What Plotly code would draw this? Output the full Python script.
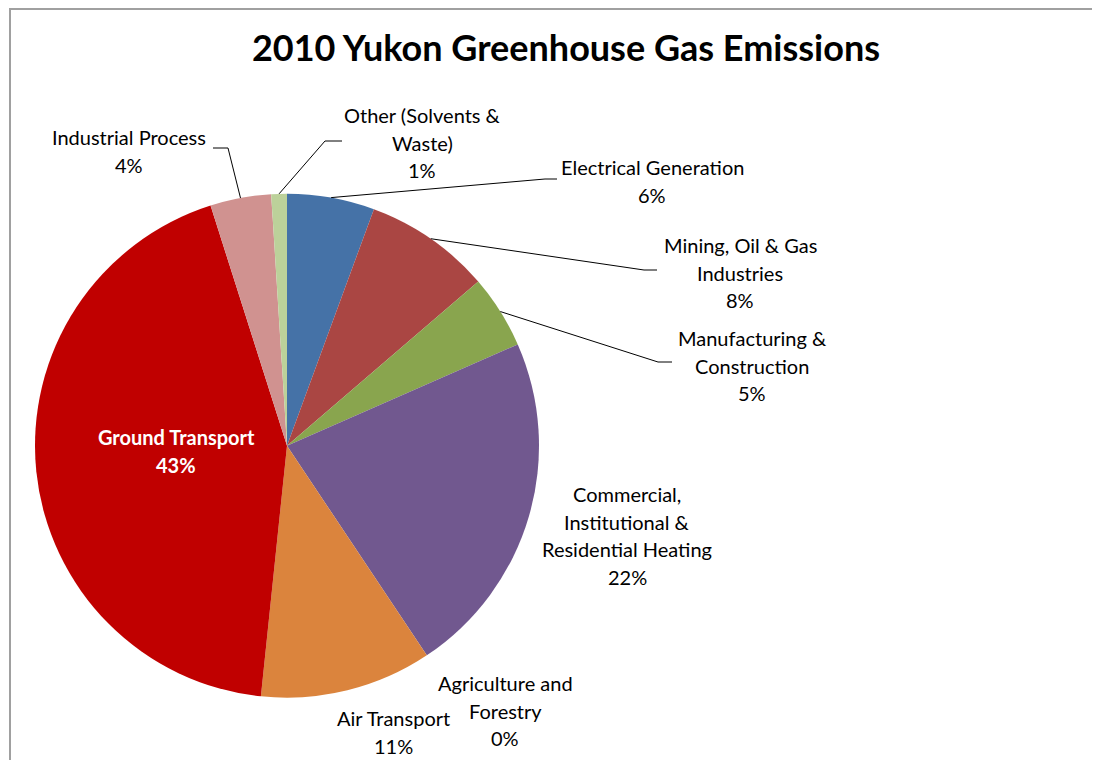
import math
import plotly.graph_objects as go

# ── Data ──────────────────────────────────────────────────────────────────────
CATEGORIES = [
    "Electrical Generation",
    "Mining, Oil & Gas Industries",
    "Manufacturing & Construction",
    "Commercial, Institutional & Residential Heating",
    "Agriculture and Forestry",
    "Air Transport",
    "Ground Transport",
    "Industrial Process",
    "Other (Solvents & Waste)",
]
SHARES = [5.6, 8.1, 4.7, 22.2, 0.0, 11.0, 43.4, 3.9, 1.0]
COLORS = ["#4572A7", "#AA4643", "#89A54E", "#71588F", "#4198AF",
          "#DB843D", "#C00000", "#D09290", "#BCD19A"]
# label text as wrapped in the chart
LABEL_LINES = [
    ["Electrical Generation"],
    ["Mining, Oil & Gas", "Industries"],
    ["Manufacturing &", "Construction"],
    ["Commercial,", "Institutional &", "Residential Heating"],
    ["Agriculture and", "Forestry"],
    ["Air Transport"],
    ["Ground Transport"],
    ["Industrial Process"],
    ["Other (Solvents &", "Waste)"],
]

# ── Layout constants (screen pixels) ─────────────────────────────────────────
W, H = 1092, 752        # page body has an 8px margin
OFF = 8
CX, CY, R = 287, 445.7, 252
FONT = "Lato, 'Open Sans', sans-serif"
LINE_H = 27.5

# label centre (x, y of first line) and leader elbow/end points (None = no leader)
LABEL_POS = [
    (652, 167), (740, 245), (752, 338), (627, 494), (505, 683),
    (393, 718), (176, 437), (129, 137), (422, 115),
]
LEADERS = [
    [(545, 179), (557, 179)],
    [(644, 270), (657, 270)],
    [(658, 362), (672, 362)],
    None, None, None, None,
    [(228, 148), (213, 148)],
    [(325, 141), (342, 141)],
]


def px(x):
    return (x - OFF) / W


def py(y):
    return 1 - (y - OFF) / H


total = sum(SHARES)
pcts = [f"{round(v / total * 100)}%" for v in SHARES]

fig = go.Figure(go.Pie(
    labels=CATEGORIES,
    values=SHARES,
    marker=dict(colors=COLORS, line=dict(width=0)),
    sort=False,
    direction="clockwise",
    rotation=0,
    textinfo="none",
    showlegend=False,
    domain=dict(x=[px(CX - R), px(CX + R)], y=[py(CY + R), py(CY - R)]),
))

annotations = []
shapes = []
cum = 0.0
for i, name in enumerate(CATEGORIES):
    lines = LABEL_LINES[i] + [pcts[i]]
    lx, ly = LABEL_POS[i]
    inside = name == "Ground Transport"
    for k, t in enumerate(lines):
        annotations.append(dict(
            x=px(lx), y=py(ly + k * LINE_H), xref="paper", yref="paper",
            text=f"<b>{t}</b>" if inside else t, showarrow=False,
            xanchor="center", yanchor="middle",
            font=dict(family=FONT, size=20, color="white" if inside else "black"),
        ))
    # leader line from the slice's mid-angle on the rim
    mid = 2 * math.pi * (cum + SHARES[i] / 2) / total
    cum += SHARES[i]
    if LEADERS[i]:
        sx, sy = CX + R * math.sin(mid), CY - R * math.cos(mid)
        (ex, ey), (fx, fy) = LEADERS[i]
        shapes.append(dict(
            type="path", xref="paper", yref="paper",
            path=f"M {px(sx)},{py(sy)} L {px(ex)},{py(ey)} L {px(fx)},{py(fy)}",
            line=dict(color="black", width=1),
        ))

# chart-area border (runs off the right/bottom edges)
shapes.append(dict(
    type="rect", xref="paper", yref="paper",
    x0=px(10), y0=py(9), x1=px(W + 40), y1=py(H + 40),
    line=dict(color="#A0A0A0", width=2),
))

fig.update_layout(
    width=W, height=H,
    paper_bgcolor="white",
    margin=dict(l=0, r=0, t=0, b=0),
    title=dict(
        text="<b>2010 Yukon Greenhouse Gas Emissions</b>",
        x=px(566), xanchor="center", y=py(48), yanchor="middle",
        font=dict(family=FONT, size=36, color="black"),
    ),
    annotations=annotations,
    shapes=shapes,
)

fig.write_html("out.html")
